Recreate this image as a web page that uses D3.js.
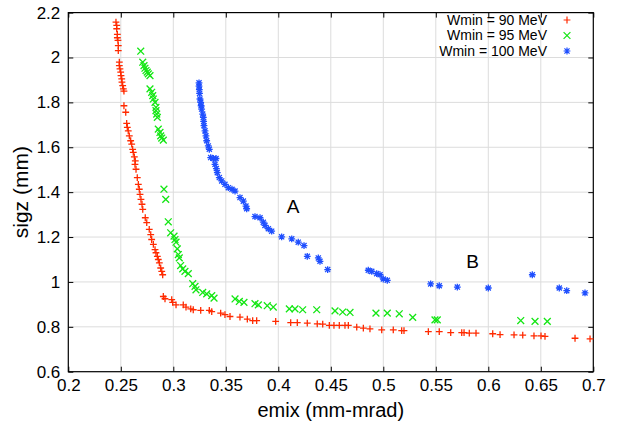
<!DOCTYPE html>
<html>
<head>
<meta charset="utf-8">
<script src="https://cdn.jsdelivr.net/npm/d3@7"></script>
<style>
  body { margin: 0; background: #fff; }
  svg { font-family: "Liberation Sans", Arial, sans-serif; }
  .grid line { stroke: #dcdcdc; stroke-width: 1; }
</style>
</head>
<body>
<div id="chart"></div>
<script>
// Wmin = 90 MeV  [emix, sigz]
const red90 = [
  [0.2454,2.158],[0.2461,2.143],[0.2461,2.128],[0.2467,2.103],[0.2467,2.088],[0.2473,2.076],
  [0.2476,2.053],[0.2476,2.031],[0.2486,1.979],[0.2486,1.964],[0.2492,1.949],[0.2499,1.935],
  [0.2502,1.919],[0.2509,1.905],[0.2511,1.890],[0.2518,1.875],[0.2524,1.860],[0.2530,1.850],
  [0.2530,1.785],[0.2547,1.756],[0.2556,1.706],[0.2562,1.689],[0.2571,1.673],[0.2581,1.651],
  [0.2594,1.629],[0.2604,1.614],[0.2613,1.591],[0.2619,1.577],[0.2629,1.557],[0.2638,1.539],
  [0.2635,1.524],[0.2645,1.502],[0.2657,1.465],[0.2667,1.435],[0.2676,1.413],[0.2683,1.390],
  [0.2692,1.368],[0.2702,1.346],[0.2709,1.323],[0.2733,1.286],[0.2747,1.264],[0.2771,1.234],
  [0.2785,1.211],[0.2794,1.189],[0.2810,1.167],[0.2826,1.144],[0.2835,1.130],[0.2848,1.114],
  [0.2857,1.100],[0.2867,1.085],[0.2880,1.062],[0.2890,1.047],[0.2899,1.032],
  [0.2905,0.935],[0.2921,0.925],[0.2985,0.921],[0.2994,0.909],[0.3026,0.898],[0.3095,0.898],
  [0.3121,0.888],[0.3166,0.880],[0.3190,0.876],[0.3261,0.873],[0.3343,0.873],[0.3366,0.868],
  [0.3451,0.861],[0.3492,0.854],[0.3540,0.846],[0.3635,0.843],[0.3705,0.834],[0.3756,0.828],
  [0.3794,0.828],[0.3975,0.824],[0.4118,0.819],[0.4181,0.819],[0.4276,0.816],[0.4371,0.813],
  [0.4423,0.812],[0.4486,0.806],[0.4530,0.806],[0.4581,0.806],[0.4635,0.806],[0.4667,0.806],
  [0.4747,0.799],[0.4810,0.794],[0.4873,0.791],[0.4985,0.786],[0.5095,0.786],[0.5175,0.783],
  [0.5197,0.783],[0.5429,0.779],[0.5533,0.779],[0.5642,0.774],[0.5747,0.774],[0.5769,0.774],
  [0.5819,0.772],[0.5883,0.772],[0.6042,0.769],[0.6112,0.765],[0.6245,0.764],[0.6328,0.763],
  [0.6435,0.760],[0.6502,0.760],[0.6540,0.757],[0.6826,0.749],[0.6969,0.746]
];

// Wmin = 95 MeV
const green95 = [
  [0.2690,2.028],[0.2709,1.979],[0.2721,1.964],[0.2730,1.952],[0.2740,1.942],[0.2752,1.935],
  [0.2762,1.927],[0.2778,1.919],[0.2778,1.860],[0.2794,1.845],[0.2804,1.830],[0.2810,1.815],
  [0.2826,1.800],[0.2835,1.778],[0.2835,1.763],[0.2842,1.748],[0.2848,1.733],[0.2857,1.681],
  [0.2873,1.666],[0.2880,1.651],[0.2890,1.641],[0.2905,1.632],
  [0.2911,1.413],[0.2928,1.368],[0.2952,1.268],[0.2975,1.219],[0.3007,1.204],[0.3016,1.189],
  [0.3026,1.177],[0.3038,1.147],[0.3048,1.122],[0.3057,1.107],[0.3070,1.073],[0.3090,1.058],
  [0.3111,1.047],[0.3143,1.037],[0.3185,0.992],[0.3207,0.980],[0.3216,0.965],[0.3280,0.953],
  [0.3318,0.947],[0.3366,0.939],[0.3388,0.928],[0.3588,0.924],[0.3629,0.913],[0.3673,0.909],
  [0.3778,0.903],[0.3810,0.898],[0.3895,0.894],[0.3952,0.888],[0.4105,0.880],[0.4159,0.880],
  [0.4232,0.876],[0.4366,0.876],[0.4540,0.871],[0.4613,0.866],[0.4683,0.864],[0.4930,0.861],
  [0.5038,0.861],[0.5152,0.858],[0.5280,0.842],[0.5492,0.831],[0.5514,0.831],[0.6309,0.828],
  [0.6445,0.824],[0.6562,0.824]
];

// Wmin = 100 MeV
const blue100 = [
  [0.3245,1.887],[0.3245,1.872],[0.3248,1.857],[0.3250,1.840],[0.3254,1.815],[0.3261,1.800],
  [0.3265,1.785],[0.3270,1.770],[0.3280,1.748],[0.3286,1.733],[0.3289,1.715],[0.3292,1.696],
  [0.3302,1.673],[0.3311,1.651],[0.3318,1.629],[0.3333,1.606],[0.3343,1.591],[0.3356,1.554],
  [0.3381,1.550],[0.3407,1.550],[0.3397,1.524],[0.3410,1.505],[0.3419,1.487],[0.3438,1.465],
  [0.3461,1.450],[0.3492,1.435],[0.3524,1.420],[0.3559,1.413],[0.3588,1.405],[0.3635,1.376],
  [0.3667,1.360],[0.3692,1.338],[0.3699,1.326],[0.3778,1.291],[0.3826,1.286],[0.3857,1.266],
  [0.3873,1.252],[0.3905,1.237],[0.3937,1.226],[0.4032,1.201],[0.4128,1.192],[0.4190,1.177],
  [0.4245,1.162],[0.4276,1.114],[0.4381,1.107],[0.4397,1.092],[0.4470,1.055],[0.4857,1.052],
  [0.4890,1.047],[0.4937,1.037],[0.4969,1.032],[0.5000,1.013],[0.5038,1.007],[0.5451,0.991],
  [0.5533,0.983],[0.5705,0.977],[0.6000,0.973],[0.6419,1.032],[0.6676,0.973],[0.6747,0.961],
  [0.6921,0.951]
];

const xTicks = [0.2, 0.25, 0.3, 0.35, 0.4, 0.45, 0.5, 0.55, 0.6, 0.65, 0.7];
const yTicks = [0.6, 0.8, 1, 1.2, 1.4, 1.6, 1.8, 2, 2.2];
const legendLabels = ['Wmin = 90 MeV', 'Wmin = 95 MeV', 'Wmin = 100 MeV'];
const notes = [{text: 'A', x: 0.414, y: 1.337}, {text: 'B', x: 0.585, y: 1.09}];

const width = 621, height = 426;
const margin = {top: 12.6, right: 27.7, bottom: 54.3, left: 68.3};

const series = [
  {data: red90, color: '#ff2a00', shape: 'plus'},
  {data: green95, color: '#14e614', shape: 'cross'},
  {data: blue100, color: '#1f4fff', shape: 'star'}
];

const svg = d3.select('#chart').append('svg')
    .attr('width', width)
    .attr('height', height);

const x = d3.scaleLinear().domain([0.2, 0.7]).range([margin.left, width - margin.right]);
const y = d3.scaleLinear().domain([0.6, 2.2]).range([height - margin.bottom, margin.top]);

const fmt = d => String(+d.toFixed(2));

// grid
svg.append('g')
    .attr('class', 'grid')
    .selectAll('line.v')
    .data(xTicks.slice(1, -1))
  .enter().append('line')
    .attr('x1', d => x(d)).attr('x2', d => x(d))
    .attr('y1', y.range()[0]).attr('y2', y.range()[1]);

svg.append('g')
    .attr('class', 'grid')
    .selectAll('line.h')
    .data(yTicks.slice(1, -1))
  .enter().append('line')
    .attr('y1', d => y(d)).attr('y2', d => y(d))
    .attr('x1', x.range()[0]).attr('x2', x.range()[1]);

// axes, gnuplot style: inward ticks on all sides
const tickLen = 5;
const styleAxis = g => {
  g.select('.domain').remove();
  g.selectAll('.tick line').attr('stroke', '#000').attr('stroke-width', 1);
  g.selectAll('.tick text')
      .attr('fill', '#000')
      .style('font-size', '17px')
      .style('font-family', '"Liberation Sans", Arial, sans-serif');
};

svg.append('g')
    .attr('transform', `translate(0,${y(0.6)})`)
    .call(d3.axisBottom(x).tickValues(xTicks).tickFormat(fmt).tickSizeInner(-tickLen).tickPadding(7))
    .call(styleAxis);

svg.append('g')
    .attr('transform', `translate(0,${y(2.2)})`)
    .call(d3.axisTop(x).tickValues(xTicks).tickFormat('').tickSizeInner(-tickLen))
    .call(styleAxis);

svg.append('g')
    .attr('transform', `translate(${x(0.2)},0)`)
    .call(d3.axisLeft(y).tickValues(yTicks).tickFormat(fmt).tickSizeInner(-tickLen).tickPadding(8))
    .call(styleAxis);

svg.append('g')
    .attr('transform', `translate(${x(0.7)},0)`)
    .call(d3.axisRight(y).tickValues(yTicks).tickFormat('').tickSizeInner(-tickLen))
    .call(styleAxis);

svg.append('rect')
    .attr('x', x(0.2)).attr('y', y(2.2))
    .attr('width', x(0.7) - x(0.2)).attr('height', y(0.6) - y(2.2))
    .attr('fill', 'none').attr('stroke', '#000').attr('stroke-width', 1.2);

// markers
const s = 3.4;
const markerPath = shape => {
  if (shape === 'plus') return `M${-s},0H${s}M0,${-s}V${s}`;
  if (shape === 'cross') return `M${-s},${-s}L${s},${s}M${-s},${s}L${s},${-s}`;
  return `M${-s},0H${s}M0,${-s}V${s}M${-s*0.75},${-s*0.75}L${s*0.75},${s*0.75}M${-s*0.75},${s*0.75}L${s*0.75},${-s*0.75}`;
};

series.forEach(ser => {
  svg.append('g')
    .selectAll('path')
      .data(ser.data)
    .enter().append('path')
      .attr('transform', d => `translate(${x(d[0])},${y(d[1])})`)
      .attr('d', markerPath(ser.shape))
      .attr('stroke', ser.color)
      .attr('stroke-width', 1.3)
      .attr('fill', 'none');
});

// annotations
svg.append('g')
  .selectAll('text')
    .data(notes)
  .enter().append('text')
    .attr('x', d => x(d.x))
    .attr('y', d => y(d.y))
    .attr('text-anchor', 'middle')
    .attr('dy', '0.35em')
    .style('font-size', '19px')
    .text(d => d.text);

// legend
const legend = svg.append('g')
  .selectAll('g')
    .data(legendLabels)
  .enter().append('g')
    .attr('transform', (d, i) => `translate(0,${20 + i * 15.5})`);

legend.append('text')
    .attr('x', 547)
    .attr('dy', '0.35em')
    .attr('text-anchor', 'end')
    .style('font-size', '14px')
    .text(d => d);

legend.append('path')
    .attr('transform', 'translate(567,0)')
    .attr('d', (d, i) => markerPath(series[i].shape))
    .attr('stroke', (d, i) => series[i].color)
    .attr('stroke-width', 1.2)
    .attr('fill', 'none');

// axis titles
svg.append('text')
    .attr('x', (x(0.2) + x(0.7)) / 2)
    .attr('y', 410)
    .attr('text-anchor', 'middle')
    .attr('dy', '0.35em')
    .style('font-size', '20px')
    .text('emix (mm-mrad)');

svg.append('text')
    .attr('transform', `translate(21,${(y(0.6) + y(2.2)) / 2}) rotate(-90)`)
    .attr('text-anchor', 'middle')
    .attr('dy', '0.35em')
    .style('font-size', '21px')
    .text('sigz (mm)');
</script>
</body>
</html>
